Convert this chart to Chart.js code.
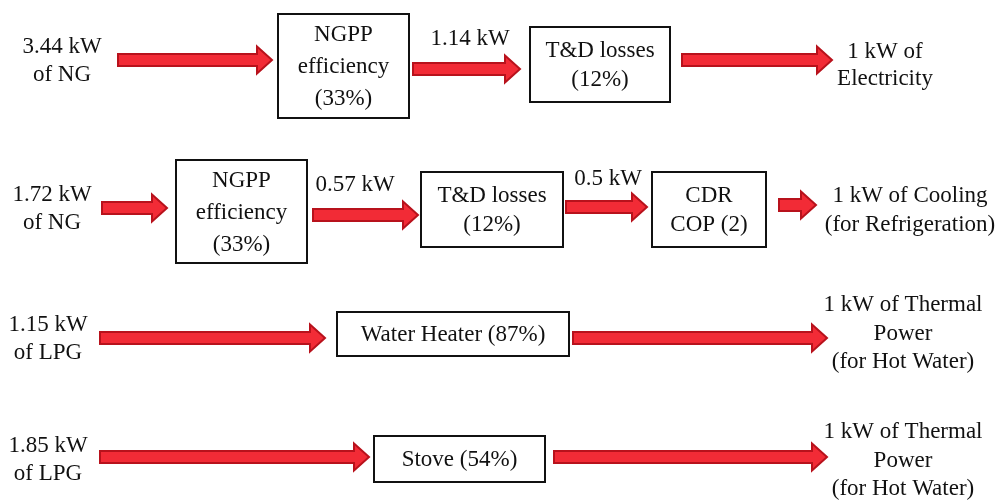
<!DOCTYPE html>
<html lang="en">
<head>
  <meta charset="UTF-8" />
  <title>Energy conversion chains</title>
  <style>
    body { margin: 0; background: #fff; }
    #flowChart { display: block; }
  </style>
</head>
<body>
  <canvas id="flowChart" width="1002" height="500"></canvas>

  <script src="https://cdn.jsdelivr.net/npm/chart.js"></script>
  <script>
    // text content of the four chains
    const inputs = [['3.44 kW', 'of NG'], ['1.72 kW', 'of NG'], ['1.15 kW', 'of LPG'], ['1.85 kW', 'of LPG']];
    const stages = [
      [['NGPP', 'efficiency', '(33%)'], ['T&D losses', '(12%)']],
      [['NGPP', 'efficiency', '(33%)'], ['T&D losses', '(12%)'], ['CDR', 'COP (2)']],
      [['Water Heater (87%)']],
      [['Stove (54%)']]
    ];
    const flows = [['1.14 kW'], ['0.57 kW', '0.5 kW'], [], []];
    const outputs = [
      ['1 kW of', 'Electricity'],
      ['1 kW of Cooling', '(for Refrigeration)'],
      ['1 kW of Thermal', 'Power', '(for Hot Water)'],
      ['1 kW of Thermal', 'Power', '(for Hot Water)']
    ];

    // diagram layout in axis units (x 0..1002, y 0..500 top-down)
    const inputAnchor = [[62, 47], [52, 195], [48, 325], [48, 446]];
    const stageBoxes = [
      [[278, 14, 409, 118], [530, 27, 670, 102]],
      [[176, 160, 307, 263], [421, 172, 563, 247], [652, 172, 766, 247]],
      [[337, 312, 569, 356]],
      [[374, 436, 545, 482]]
    ];
    const flowAnchor = [[[470, 39]], [[355, 185], [608, 179]], [], []];
    const arrows = [
      [[118, 272, 60], [413, 520, 69], [682, 832, 60]],
      [[102, 167, 208], [313, 418, 215], [566, 647, 207], [779, 816, 205]],
      [[100, 325, 338], [573, 827, 338]],
      [[100, 369, 457], [554, 827, 457]]
    ];
    const outputAnchor = [[885, 52], [910, 196], [903, 305], [903, 432]];
    const lineStep = [27, 29, 28.5, 28.5];

    const FONT = '23px "Liberation Serif", "DejaVu Serif", serif';

    const diagramPlugin = {
      id: 'diagram',
      afterDatasetsDraw(chart) {
        const ctx = chart.ctx;
        const sx = v => chart.scales.x.getPixelForValue(v);
        const sy = v => chart.scales.y.getPixelForValue(v);

        function textLines(lines, x, y, step) {
          lines.forEach((t, i) => ctx.fillText(t, sx(x), sy(y + i * step)));
        }

        function arrow(x0, x1, y) {
          const px0 = sx(x0), px1 = sx(x1), py = sy(y);
          const shaft = 6, head = 13.5, headLen = 15;
          ctx.beginPath();
          ctx.moveTo(px0, py - shaft);
          ctx.lineTo(px1 - headLen, py - shaft);
          ctx.lineTo(px1 - headLen, py - head);
          ctx.lineTo(px1, py);
          ctx.lineTo(px1 - headLen, py + head);
          ctx.lineTo(px1 - headLen, py + shaft);
          ctx.lineTo(px0, py + shaft);
          ctx.closePath();
          ctx.fillStyle = '#f22b36';
          ctx.fill();
          ctx.lineWidth = 2;
          ctx.strokeStyle = '#b8121c';
          ctx.stroke();
        }

        ctx.save();
        ctx.font = FONT;
        ctx.textAlign = 'center';
        ctx.textBaseline = 'middle';

        for (let r = 0; r < inputs.length; r++) {
          ctx.fillStyle = '#111';
          textLines(inputs[r], inputAnchor[r][0], inputAnchor[r][1], 28);

          arrows[r].forEach(a => arrow(a[0], a[1], a[2]));

          stageBoxes[r].forEach((b, i) => {
            const [x0, y0, x1, y1] = b;
            ctx.fillStyle = '#fff';
            ctx.fillRect(sx(x0), sy(y0), sx(x1) - sx(x0), sy(y1) - sy(y0));
            ctx.lineWidth = 2;
            ctx.strokeStyle = '#111';
            ctx.strokeRect(sx(x0), sy(y0), sx(x1) - sx(x0), sy(y1) - sy(y0));
            const lines = stages[r][i];
            const step = lines.length === 3 ? 32 : 29;
            const cy = (y0 + y1) / 2 - (lines.length - 1) * step / 2;
            ctx.fillStyle = '#111';
            textLines(lines, (x0 + x1) / 2, cy + 1, step);
          });

          flows[r].forEach((t, i) => {
            ctx.fillStyle = '#111';
            ctx.fillText(t, sx(flowAnchor[r][i][0]), sy(flowAnchor[r][i][1]));
          });

          ctx.fillStyle = '#111';
          textLines(outputs[r], outputAnchor[r][0], outputAnchor[r][1], lineStep[r]);
        }
        ctx.restore();
      }
    };

    new Chart(document.getElementById('flowChart'), {
      type: 'scatter',
      data: { datasets: [{ data: [] }] },
      options: {
        responsive: false,
        animation: false,
        layout: { padding: 0 },
        plugins: { legend: { display: false }, tooltip: { enabled: false } },
        scales: {
          x: { type: 'linear', min: 0, max: 1002, display: false },
          y: { type: 'linear', min: 0, max: 500, reverse: true, display: false }
        }
      },
      plugins: [diagramPlugin]
    });
  </script>
</body>
</html>
